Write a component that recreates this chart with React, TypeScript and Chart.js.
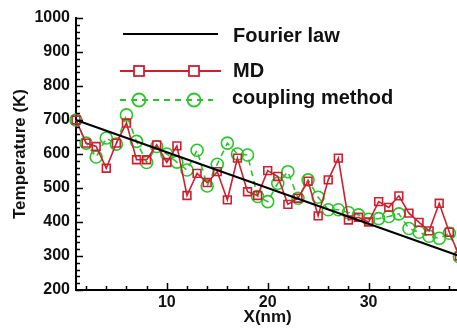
import React, { useEffect, useRef } from "react";
import { Chart, registerables } from "chart.js";

Chart.register(...registerables);

const xNm = [1, 2, 3, 4, 5, 6, 7, 8, 9, 10, 11, 12, 13, 14, 15, 16, 17, 18, 19, 20, 21, 22, 23, 24, 25, 26, 27, 28, 29, 30, 31, 32, 33, 34, 35, 36, 37, 38, 39];
const mdTemp = [700, 632, 622, 558, 632, 691, 583, 583, 627, 575, 624, 478, 543, 516, 548, 465, 588, 489, 478, 551, 534, 452, 470, 520, 418, 524, 588, 406, 414, 400, 460, 443, 477, 426, 399, 374, 455, 370, 300];
const couplingTemp = [700, 632, 591, 647, 629, 715, 637, 575, 622, 600, 576, 553, 611, 506, 570, 632, 600, 597, 475, 460, 514, 548, 470, 524, 473, 436, 436, 428, 421, 408, 410, 416, 424, 381, 370, 358, 352, 367, 297];
const fourierX = [1, 39];
const fourierTemp = [700, 300];
const xMajorTicks = [10, 20, 30];
const legendNames = ["Fourier law", "MD", "coupling method"];

const RED = "#cc2030";
const GREEN = "#2cc42c";
const FONT = "'Liberation Sans', Arial, Helvetica, sans-serif";

const inwardTicks = {
  id: "inwardTicks",
  afterDraw(chart: any) {
    const { ctx, chartArea, scales } = chart;
    const xs = scales.x;
    const ys = scales.y;
    ctx.save();
    ctx.strokeStyle = "#000";
    ctx.lineWidth = 1.5;
    ctx.beginPath();
    for (let v = 2; v <= 38; v += 2) {
      const px = Math.round(xs.getPixelForValue(v)) + 0.5;
      const len = v % 10 === 0 ? 7 : 4;
      ctx.moveTo(px, chartArea.bottom);
      ctx.lineTo(px, chartArea.bottom - len);
    }
    for (let v = 200; v <= 1000; v += 20) {
      const py = Math.round(ys.getPixelForValue(v)) + 0.5;
      const len = v % 100 === 0 ? 7 : 4;
      ctx.moveTo(chartArea.left, py);
      ctx.lineTo(chartArea.left + len, py);
    }
    ctx.stroke();
    ctx.restore();
  },
};

const customLegend = {
  id: "customLegend",
  afterDraw(chart: any) {
    const { ctx } = chart;
    ctx.save();
    const x0 = 120;
    const x1 = 221;
    const m1 = 139;
    const m2 = 194;
    const rows = [34, 71, 100];
    ctx.strokeStyle = "#000";
    ctx.lineWidth = 2;
    ctx.beginPath();
    ctx.moveTo(123, rows[0]);
    ctx.lineTo(218, rows[0]);
    ctx.stroke();
    ctx.strokeStyle = RED;
    ctx.lineWidth = 1.8;
    ctx.beginPath();
    ctx.moveTo(x0, rows[1]);
    ctx.lineTo(m1 - 5, rows[1]);
    ctx.moveTo(m1 + 5, rows[1]);
    ctx.lineTo(m2 - 5, rows[1]);
    ctx.moveTo(m2 + 5, rows[1]);
    ctx.lineTo(x1, rows[1]);
    ctx.stroke();
    ctx.strokeRect(m1 - 5, rows[1] - 5, 10, 10);
    ctx.strokeRect(m2 - 5, rows[1] - 5, 10, 10);
    ctx.strokeStyle = GREEN;
    ctx.lineWidth = 1.8;
    ctx.setLineDash([6, 5]);
    ctx.beginPath();
    ctx.moveTo(x0, rows[2]);
    ctx.lineTo(213, rows[2]);
    ctx.stroke();
    ctx.setLineDash([]);
    ctx.beginPath();
    ctx.arc(m1, rows[2], 6.5, 0, Math.PI * 2);
    ctx.stroke();
    ctx.beginPath();
    ctx.arc(m2, rows[2], 6.5, 0, Math.PI * 2);
    ctx.stroke();
    ctx.fillStyle = "#111";
    ctx.font = `bold 20px ${FONT}`;
    ctx.textAlign = "left";
    ctx.textBaseline = "alphabetic";
    ctx.fillText(legendNames[0], 233, 42);
    ctx.fillText(legendNames[1], 233, 77);
    ctx.fillText(legendNames[2], 232, 104);
    ctx.restore();
  },
};

export default function App() {
  const canvasRef = useRef<HTMLCanvasElement | null>(null);

  useEffect(() => {
    if (!canvasRef.current) return;
    const chart = new Chart(canvasRef.current, {
      type: "line",
      data: {
        datasets: [
          {
            label: legendNames[0],
            data: fourierX.map((x, i) => ({ x, y: fourierTemp[i] })),
            borderColor: "#000",
            borderWidth: 2,
            pointRadius: 0,
            clip: false as any,
            order: 0,
          },
          {
            label: legendNames[1],
            data: xNm.map((x, i) => ({ x, y: mdTemp[i] })),
            borderColor: RED,
            borderWidth: 1.6,
            pointStyle: "rect",
            pointRadius: 5.5,
            pointBorderWidth: 1.6,
            pointBorderColor: RED,
            pointBackgroundColor: "rgba(255,255,255,0)",
            clip: false as any,
            order: 1,
          },
          {
            label: legendNames[2],
            data: xNm.map((x, i) => ({ x, y: couplingTemp[i] })),
            borderColor: GREEN,
            borderWidth: 1.6,
            borderDash: [6, 5],
            pointStyle: "circle",
            pointRadius: 6,
            pointBorderWidth: 1.6,
            pointBorderColor: GREEN,
            pointBackgroundColor: "rgba(255,255,255,0)",
            clip: false as any,
            order: 2,
          },
        ],
      },
      options: {
        animation: false,
        responsive: false,
        devicePixelRatio: 1,
        layout: { padding: { top: 18, left: 0, right: 0, bottom: 0 } },
        plugins: { legend: { display: false }, tooltip: { enabled: false } },
        scales: {
          x: {
            type: "linear",
            min: 1,
            max: 39,
            grid: { display: false, drawTicks: false },
            border: { display: true, color: "#000", width: 2 },
            afterBuildTicks: (scale: any) => {
              scale.ticks = xMajorTicks.map((v) => ({ value: v }));
            },
            afterFit: (scale: any) => {
              scale.height = 40;
            },
            ticks: {
              color: "#111",
              padding: 3,
              font: { family: FONT, size: 16, weight: "bold" },
              autoSkip: false,
              maxRotation: 0,
              callback: (v: any) => String(v),
            },
            title: {
              display: true,
              text: "X(nm)",
              color: "#111",
              font: { family: FONT, size: 17, weight: "bold" },
              padding: { top: 0, bottom: 2 },
            },
          },
          y: {
            type: "linear",
            min: 200,
            max: 1000,
            grid: { display: false, drawTicks: false },
            border: { display: true, color: "#000", width: 2 },
            afterFit: (scale: any) => {
              scale.width = 76;
            },
            ticks: {
              stepSize: 100,
              color: "#111",
              padding: 6,
              font: { family: FONT, size: 16, weight: "bold" },
              callback: (v: any) => String(v),
            },
            title: {
              display: true,
              text: "Temperature (K)",
              color: "#111",
              font: { family: FONT, size: 17, weight: "bold" },
              padding: { top: 10, bottom: 0 },
            },
          },
        },
      },
      plugins: [inwardTicks, customLegend],
    });
    return () => chart.destroy();
  }, []);

  return (
    <div style={{ position: "fixed", left: 0, top: 0, width: 457, height: 330, overflow: "hidden", background: "#fff" }}>
      <canvas ref={canvasRef} width={467} height={330} style={{ display: "block" }} />
    </div>
  );
}
